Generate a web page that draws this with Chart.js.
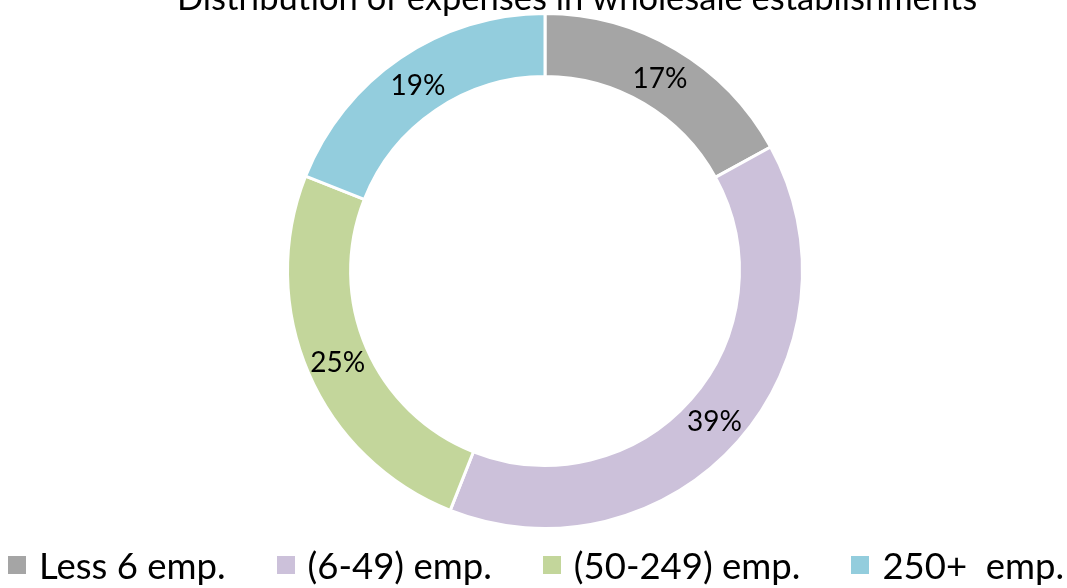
<!DOCTYPE html>
<html>
<head>
<meta charset="utf-8">
<script src="https://cdn.jsdelivr.net/npm/chart.js@4/dist/chart.umd.min.js"></script>
<style>
  html,body{margin:0;padding:0;background:#fff;overflow:hidden}
  #wrap{position:relative;width:1067px;height:588px}
  #chart{position:absolute;left:0;top:0}
  #legend{position:absolute;left:8px;top:547px;display:flex;align-items:center;
    font-family:Lato,"Open Sans",sans-serif;font-size:36.5px;line-height:36px;color:#000;white-space:pre}
  #legend .item{display:flex;align-items:center;margin-right:51px}
  #legend .sw{width:18px;height:18px;margin-right:13px}
</style>
</head>
<body>
<div id="wrap">
  <canvas id="chart" width="1067" height="588"></canvas>
  <div id="legend"></div>
</div>
<script>
// ----- data -----
const TITLE = "Distribution of expenses in wholesale establishments";
const categories = ["Less 6 emp.", "(6-49) emp.", "(50-249) emp.", "250+  emp."];
const shares = [17, 39, 25, 19];
const sliceColors = ["#A5A5A5", "#CCC1DA", "#C3D69B", "#93CDDD"];

// title sits partly above the top edge, like in the source picture
const titlePlugin = {
  id: "cutTitle",
  afterDraw(chart){
    const ctx = chart.ctx;
    ctx.save();
    ctx.font = "34.5px Lato, 'Open Sans', sans-serif";
    ctx.fillStyle = "#000";
    ctx.textAlign = "center";
    ctx.textBaseline = "alphabetic";
    ctx.fillText(TITLE, 577, 10);
    ctx.restore();
  }
};

// percent labels in the middle of each ring slice
const sliceLabels = {
  id: "sliceLabels",
  afterDatasetsDraw(chart){
    const ctx = chart.ctx;
    const meta = chart.getDatasetMeta(0);
    ctx.save();
    ctx.font = "28px Lato, 'Open Sans', sans-serif";
    ctx.fillStyle = "#000";
    ctx.textAlign = "center";
    ctx.textBaseline = "middle";
    meta.data.forEach((arc, i) => {
      const p = arc.tooltipPosition();
      ctx.fillText(shares[i] + "%", p.x, p.y + 2);
    });
    ctx.restore();
  }
};

new Chart(document.getElementById("chart"), {
  type: "doughnut",
  data: {
    labels: categories,
    datasets: [{
      data: shares,
      backgroundColor: sliceColors,
      borderColor: "#fff",
      borderWidth: 3,
      radius: 257.5,
      cutout: "75.5%",
      clip: false
    }]
  },
  options: {
    responsive: false,
    animation: false,
    layout: { padding: { left: 23, top: 0, right: 0, bottom: 46 } },
    plugins: {
      legend: { display: false },
      title: { display: false },
      tooltip: { enabled: false }
    }
  },
  plugins: [sliceLabels, titlePlugin]
});

// html legend built from the same arrays
const legend = document.getElementById("legend");
categories.forEach((c, i) => {
  const it = document.createElement("div");
  it.className = "item";
  const sw = document.createElement("span");
  sw.className = "sw";
  sw.style.background = sliceColors[i];
  const tx = document.createElement("span");
  tx.textContent = c;
  it.appendChild(sw); it.appendChild(tx);
  legend.appendChild(it);
});
</script>
</body>
</html>
